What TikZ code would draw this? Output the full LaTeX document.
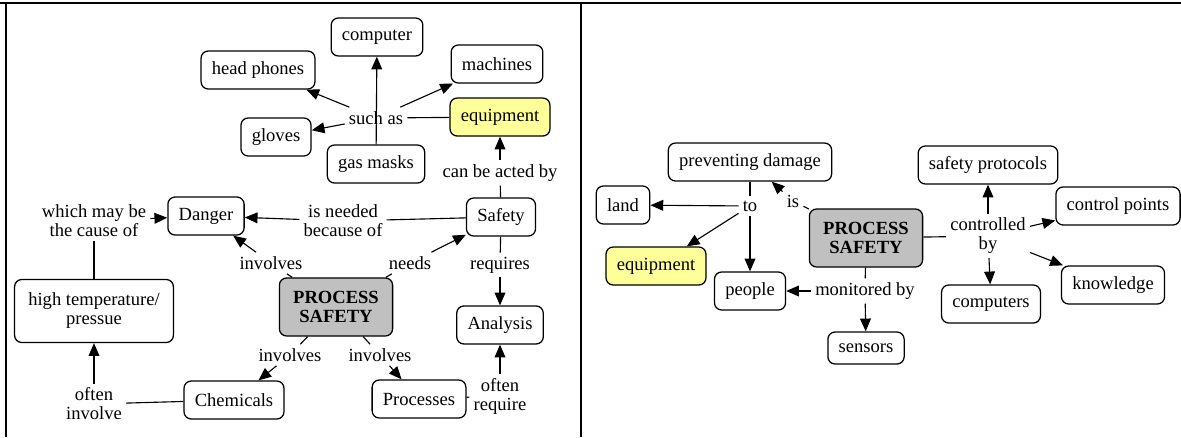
\documentclass[tikz,border=0pt]{standalone}
\usepackage{fontspec}
\setmainfont{Liberation Serif}[BoldFont={Liberation Serif Bold}]
\newfontfamily\cmserif{Liberation Serif}
\usetikzlibrary{arrows.meta}
\definecolor{cmyellow}{RGB}{255,255,153}
\definecolor{cmgray}{RGB}{192,192,192}
\newcommand{\cmfont}{\cmserif\fontsize{13.2}{13.5}\selectfont}

\begin{document}
\begin{tikzpicture}[x=0.025cm, y=-0.025cm,
  concept/.style={rectangle, rounded corners=0.18cm, draw=black, line width=0.9pt,
                  fill=white, minimum height=0.95cm, inner xsep=0.27cm,
                  font=\cmfont, align=center},
  hub/.style={concept, fill=cmgray, font=\cmfont\bfseries,
              minimum width=2.83cm, minimum height=1.45cm},
  hilite/.style={concept, fill=cmyellow},
  link/.style={inner sep=0.1cm, font=\cmfont, align=center},
  lline/.style={line width=0.8pt},
  larr/.style={-{Triangle[length=0.32cm,width=0.27cm]}, line width=0.8pt},
  frame/.style={line width=0.065cm}
]
\useasboundingbox (0,0) rectangle (1181,437);

% Frame
\draw[frame] (0,3) -- (1181,3);
\draw[frame] (6,3) -- (6,437);
\draw[frame] (581,3) -- (581,437);

% Left map: concepts
\node[hub] (psL) at (336,307) {PROCESS\\SAFETY};
\node[concept] (computer)   at (377,37)  {computer};
\node[concept] (headphones) at (258,70)  {head phones};
\node[concept] (machines)   at (497,64)  {machines};
\node[hilite]  (equipL)     at (500,117) {equipment};
\node[concept] (gloves)     at (276,137) {gloves};
\node[concept] (gasmasks)   at (376,164) {gas masks};
\node[concept] (danger)     at (206,216) {Danger};
\node[concept] (safety)     at (501,217) {Safety};
\node[concept, minimum width=3.97cm, minimum height=1.575cm] (hightemp) at (94,311) {high temperature/\\pressue};
\node[concept] (analysis)   at (500,325) {Analysis};
\node[concept] (chemicals)  at (234,400) {Chemicals};
\node[concept] (processes)  at (419,399) {Processes};

% Left map: linking phrases
\node[link] (suchas)     at (376,118) {such as};
\node[link] (canbeacted) at (500,173) {can be acted by};
\node[link] (whichmay)   at (94,221)  {which may be\\the cause of};
\node[link] (isneeded)   at (343,221) {is needed\\because of};
\node[link] (involvesA)  at (271,263) {involves};
\node[link] (needs)      at (410,263) {needs};
\node[link] (requires)   at (500,265) {requires};
\node[link] (involvesB)  at (290,355) {involves};
\node[link] (involvesC)  at (380,355) {involves};
\node[link] (oftenA)     at (94,404)  {often\\involve};
\node[link] (oftenB)     at (500,396) {often\\require};

% Left map: links
\draw[lline] (equipL) -- (suchas);
\draw[larr] (suchas) -- (headphones);
\draw[larr] (suchas) -- (machines);
\draw[larr] (suchas) -- (gloves);
\draw[larr] (gasmasks) -- (computer);
\draw[lline] (safety) -- (canbeacted);
\draw[larr] (canbeacted) -- (equipL);
\draw[lline] (safety) -- (isneeded);
\draw[larr] (isneeded) -- (danger);
\draw[lline] (hightemp) -- (whichmay);
\draw[larr] (whichmay) -- (danger);
\draw[lline] (psL) -- (involvesA);
\draw[larr] (involvesA) -- (danger);
\draw[lline] (psL) -- (needs);
\draw[larr] (needs) -- (safety);
\draw[lline] (safety) -- (requires);
\draw[larr] (requires) -- (analysis);
\draw[lline] (psL) -- (involvesB);
\draw[larr] (involvesB) -- (chemicals);
\draw[lline] (psL) -- (involvesC);
\draw[larr] (involvesC) -- (processes);
\draw[lline] (chemicals) -- (oftenA);
\draw[larr] (oftenA) -- (hightemp);
\draw[lline] (processes) -- (oftenB);
\draw[larr] (oftenB) -- (analysis);

% Right map: concepts
\node[hub] (psR) at (866,238) {PROCESS\\SAFETY};
\node[concept] (prevent)    at (750,162)  {preventing damage};
\node[concept] (land)       at (623,205)  {land};
\node[hilite]  (equipR)     at (656,266)  {equipment};
\node[concept] (people)     at (750,291)  {people};
\node[concept, minimum height=0.8cm] (sensors) at (866,348) {sensors};
\node[concept] (protocols)  at (988,165)  {safety protocols};
\node[concept] (ctrlpoints) at (1118,206) {control points};
\node[concept] (knowledge)  at (1113,285) {knowledge};
\node[concept] (computers)  at (991,304)  {computers};

% Right map: linking phrases
\node[link] (to)         at (750,206) {to};
\node[link] (is)         at (793,201) {is};
\node[link] (monitored)  at (865,291) {monitored by};
\node[link] (controlled) at (988,236) {controlled\\by};

% Right map: links
\draw[lline] (prevent) -- (to);
\draw[larr] (to) -- (land);
\draw[larr] (to) -- (people);
\draw[larr] (to) -- (equipR);
\draw[lline] (psR) -- (is);
\draw[larr] (is) -- (prevent);
\draw[lline] (psR) -- (monitored);
\draw[larr] (monitored) -- (people);
\draw[larr] (monitored) -- (sensors);
\draw[lline] (psR) -- (controlled);
\draw[larr] (controlled) -- (protocols);
\draw[larr] (controlled) -- (ctrlpoints);
\draw[larr] (controlled) -- (knowledge);
\draw[larr] (controlled) -- (computers);
\end{tikzpicture}
\end{document}
